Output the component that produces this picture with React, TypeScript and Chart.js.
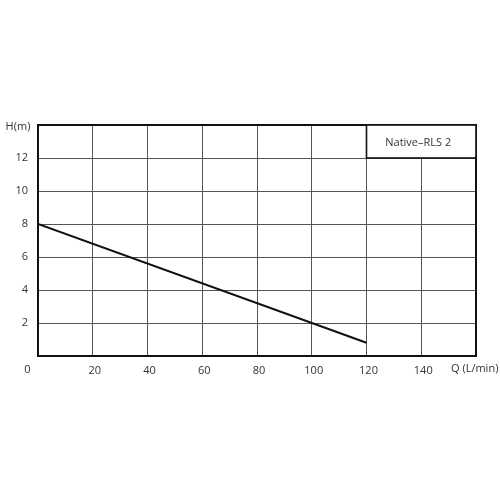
import React, { useEffect, useRef } from "react";
import { Chart, registerables } from "chart.js";

Chart.register(...registerables);

const flowQ: number[] = [0, 120];
const headH: number[] = [8, 0.8];
const seriesName = "Native–RLS 2";
const yTickLabels: number[] = [2, 4, 6, 8, 10, 12];
const xTickLabels: number[] = [20, 40, 60, 80, 100, 120, 140];
const xAxisTitle = "Q (L/min)";
const yAxisTitle = "H(m)";
const originLabel = "0";

const FONT = "'Open Sans', 'DejaVu Sans', sans-serif";

const overlayPlugin = {
  id: "overlay",
  afterDraw(chart: any) {
    const { ctx, chartArea, scales } = chart;
    const x = scales.x;
    const y = scales.y;
    ctx.save();
    // frame
    ctx.strokeStyle = "#111";
    ctx.lineWidth = 2;
    ctx.strokeRect(chartArea.left, chartArea.top, chartArea.right - chartArea.left, chartArea.bottom - chartArea.top);
    // legend box in the 120-160 / 12-14 cell
    const bx0 = x.getPixelForValue(120);
    const bx1 = x.getPixelForValue(160);
    const by0 = y.getPixelForValue(14);
    const by1 = y.getPixelForValue(12);
    ctx.fillStyle = "#fff";
    ctx.fillRect(bx0, by0, bx1 - bx0, by1 - by0);
    ctx.lineWidth = 1.6;
    ctx.strokeStyle = "#111";
    ctx.strokeRect(bx0, by0, bx1 - bx0, by1 - by0);
    ctx.fillStyle = "#333";
    ctx.font = `11px ${FONT}`;
    ctx.textAlign = "center";
    ctx.textBaseline = "middle";
    ctx.fillText(seriesName, (bx0 + bx1) / 2 - 3, (by0 + by1) / 2 + 1);
    // axis titles
    ctx.fillText(yAxisTitle, 18, chartArea.top + 2);
    ctx.fillText(originLabel, chartArea.left - 10.5, chartArea.bottom + 14);
    ctx.textAlign = "left";
    ctx.fillText(xAxisTitle, 451, chartArea.bottom + 13);
    ctx.restore();
  },
};

export default function App() {
  const ref = useRef<HTMLCanvasElement>(null);
  useEffect(() => {
    if (!ref.current) return;
    const chart = new Chart(ref.current, {
      type: "line",
      data: {
        datasets: [
          {
            label: seriesName,
            data: flowQ.map((q, i) => ({ x: q, y: headH[i] })),
            borderColor: "#111",
            borderWidth: 2,
            pointRadius: 0,
            fill: false,
            tension: 0,
          },
        ],
      },
      options: {
        responsive: false,
        animation: false,
        layout: { padding: { top: 125, right: 24, left: 0, bottom: 0 } },
        plugins: { legend: { display: false }, tooltip: { enabled: false } },
        scales: {
          x: {
            type: "linear",
            min: 0,
            max: 160,
            border: { display: false },
            grid: { color: "#555", lineWidth: 1, drawTicks: false },
            afterFit: (s: any) => {
              s.height = 144;
            },
            afterBuildTicks: (s: any) => {
              s.ticks = [0, ...xTickLabels, 160].map((v) => ({ value: v }));
            },
            ticks: {
              padding: 8,
              labelOffset: 2,
              color: "#333",
              font: { family: FONT, size: 11 },
              callback: (v: any) => (xTickLabels.includes(Number(v)) ? String(v) : ""),
            },
          },
          y: {
            type: "linear",
            min: 0,
            max: 14,
            border: { display: false },
            grid: { color: "#555", lineWidth: 1, drawTicks: false },
            afterFit: (s: any) => {
              s.width = 38;
            },
            afterBuildTicks: (s: any) => {
              s.ticks = [0, ...yTickLabels, 14].map((v) => ({ value: v }));
            },
            ticks: {
              padding: 10,
              color: "#333",
              font: { family: FONT, size: 11 },
              callback: (v: any) => (yTickLabels.includes(Number(v)) ? String(v) : ""),
            },
          },
        },
      },
      plugins: [overlayPlugin],
    } as any);
    return () => chart.destroy();
  }, []);
  return (
    <div style={{ position: "fixed", left: 0, top: 0, width: 500, height: 500, background: "#fff" }}>
      <canvas ref={ref} width={500} height={500} />
    </div>
  );
}
